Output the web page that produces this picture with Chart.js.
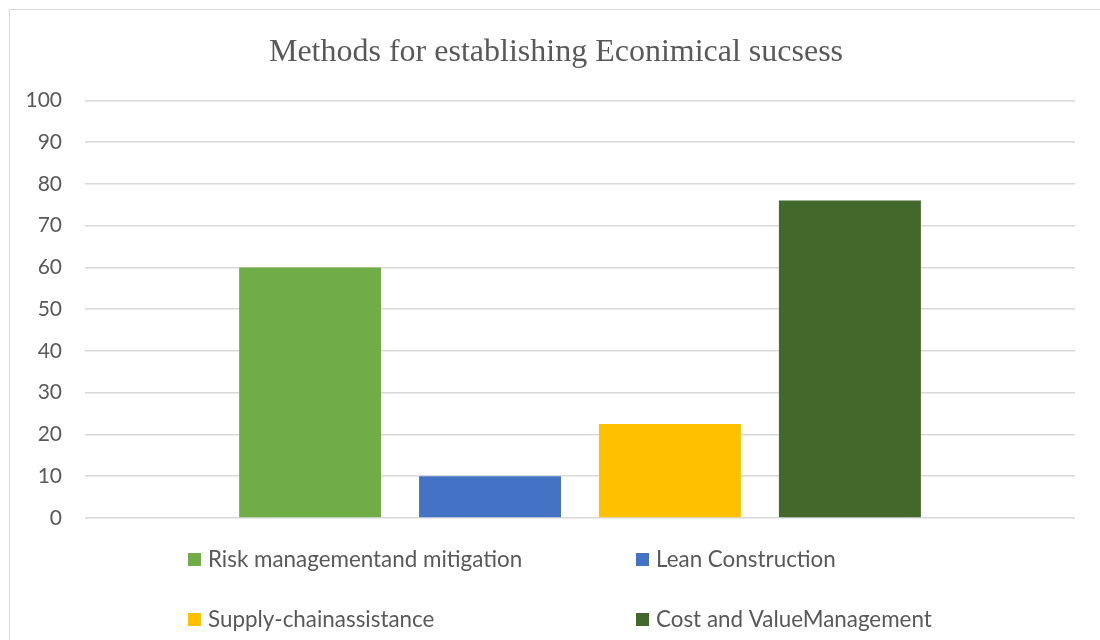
<!DOCTYPE html>
<html>
<head>
<meta charset="utf-8">
<script src="https://cdn.jsdelivr.net/npm/chart.js@4/dist/chart.umd.min.js"></script>
<style>
html,body{margin:0;padding:0;background:#fff;overflow:hidden;}
#wrap{position:absolute;left:0;top:0;width:1100px;height:640px;}
#frame{position:absolute;left:9px;top:9px;width:1200px;height:700px;border:1.5px solid #d9d9d9;box-sizing:border-box;}
canvas{position:absolute;left:0;top:0;}
</style>
</head>
<body>
<div id="wrap"><div id="frame"></div><canvas id="c" width="1100" height="640"></canvas></div>
<script>
const chartTitle = 'Methods for establishing Econimical sucsess';
const categories = [''];
const seriesNames = ['Risk managementand mitigation', 'Lean Construction', 'Supply-chainassistance', 'Cost and ValueManagement'];
const seriesValues = [60, 10, 22.5, 76];
const seriesColors = ['#70AD47', '#4472C4', '#FFC000', '#43682B'];
const yTicks = [0, 10, 20, 30, 40, 50, 60, 70, 80, 90, 100];

const legendPlugin = {
  id: 'gridLegend',
  afterDraw(chart) {
    const ctx = chart.ctx;
    const cols = [188, 636];
    const rows = [560, 620];
    ctx.save();
    ctx.font = '22.4px Lato';
    ctx.textBaseline = 'middle';
    ctx.textAlign = 'left';
    chart.data.datasets.forEach((ds, i) => {
      const x = cols[i % 2], y = rows[Math.floor(i / 2)];
      ctx.fillStyle = ds.backgroundColor;
      ctx.fillRect(x, y - 7, 13, 13);
      ctx.fillStyle = '#595959';
      ctx.fillText(ds.label, x + 20, y);
    });
    ctx.restore();
  }
};

new Chart(document.getElementById('c'), {
  type: 'bar',
  data: {
    labels: categories,
    datasets: seriesNames.map((n, i) => ({
      label: n,
      data: [seriesValues[i]],
      backgroundColor: seriesColors[i],
      categoryPercentage: 0.727,
      barPercentage: 0.789
    }))
  },
  options: {
    responsive: false,
    animation: false,
    layout: { padding: { left: 12, right: 0, top: 33, bottom: 122 } },
    plugins: {
      legend: { display: false },
      tooltip: { enabled: false },
      title: {
        display: true,
        text: chartTitle,
        color: '#595959',
        font: { family: 'Liberation Serif', size: 32, weight: 'normal' },
        padding: { top: 0, bottom: 29 }
      }
    },
    scales: {
      x: { display: false },
      y: {
        min: 0, max: 100,
        afterFit(s) { s.width = 73; },
        afterBuildTicks(s) { s.ticks = yTicks.map(v => ({ value: v })); },
        border: { display: false },
        grid: { color: '#d9d9d9', lineWidth: 1.5, drawTicks: false },
        ticks: { color: '#595959', font: { family: 'Lato', size: 21 }, padding: 23 }
      },
      yRight: {
        position: 'right',
        display: true,
        afterFit(s) { s.width = 25; },
        border: { display: false },
        grid: { display: false },
        ticks: { display: false }
      }
    }
  },
  plugins: [legendPlugin]
});
</script>
</body>
</html>
